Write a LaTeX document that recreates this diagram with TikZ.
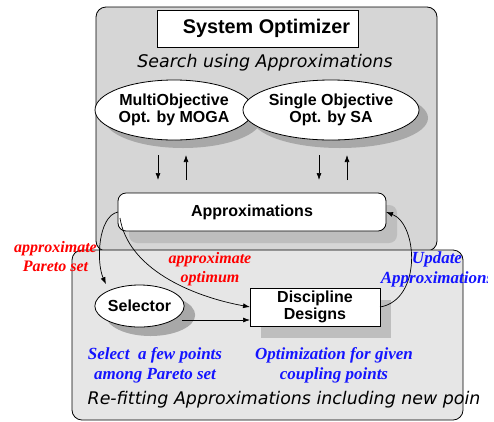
\documentclass[tikz,border=0pt]{standalone}
\usepackage{fontspec}
\setmainfont{Liberation Serif}
\newfontfamily\lsans{Liberation Sans}
\newfontfamily\djv{DejaVu Sans}
\usetikzlibrary{shapes.geometric,shadows,arrows.meta,calc}
\definecolor{topgray}{RGB}{214,214,214}
\definecolor{botgray}{RGB}{230,230,230}
\definecolor{shadeA}{RGB}{168,168,168}
\definecolor{shadeB}{RGB}{190,190,190}
\definecolor{lblred}{RGB}{255,0,0}
\definecolor{lblblue}{RGB}{20,20,255}
\begin{document}
\begin{tikzpicture}[x=1pt,y=-1pt,
  panel/.style={draw, rounded corners=10pt, line width=0.8pt, inner sep=0pt, outer sep=0pt},
  blk/.style={draw, fill=white, line width=0.8pt, inner sep=0pt, outer sep=0pt,
     font=\lsans\bfseries\fontsize{16}{17}\selectfont, align=center},
  ellshadow/.style={drop shadow={shadow xshift=9pt, shadow yshift=-8pt, opacity=1, fill=shadeA}},
  boxshadow/.style={drop shadow={shadow xshift=11pt, shadow yshift=-12pt, opacity=1, fill=shadeB}},
  lbl/.style={font=\rmfamily\bfseries\itshape\fontsize{16}{19}\selectfont, align=center, inner sep=0pt},
  bluelbl/.style={lbl, text=lblblue, font=\rmfamily\bfseries\itshape\fontsize{17}{20}\selectfont},
  note/.style={font=\djv\itshape\fontsize{17.4}{20}\selectfont, inner sep=0pt},
  arr/.style={-{Latex[length=7pt,width=5pt]}, line width=0.7pt}]
\useasboundingbox (0,0) rectangle (494,421);

% panels
\node[panel, fill=topgray, minimum width=341pt, minimum height=244pt] (top) at (266.5,129) {};
\node[panel, fill=botgray, minimum width=391pt, minimum height=170pt] (bot) at (267.5,335) {};

% title
\node[blk, minimum width=201pt, minimum height=37pt, font=\lsans\bfseries\fontsize{19.8}{22}\selectfont]
  (title) at (257.5,28.5) {\hspace*{18pt}System Optimizer};
\node[note] (search) at (265,63) {Search using Approximations};

% ellipses
\node[blk, ellipse, ellshadow, minimum width=158pt, minimum height=60pt] (moga) at (174,110)
  {MultiObjective\\Opt. by MOGA};
\node[blk, ellipse, ellshadow, minimum width=158pt, minimum height=60pt] (sa) at (331,110)
  {Single Objective\\Opt. by SA};

% approximations
\node[blk, rounded corners=8pt, boxshadow, minimum width=268pt, minimum height=38pt] (approx) at (252,212)
  {Approximations};

% selector and discipline
\node[blk, ellipse, drop shadow={shadow xshift=11pt, shadow yshift=-9pt, opacity=1, fill=shadeA},
  minimum width=85pt, minimum height=42pt] (sel) at (139.5,306) {Selector};
\node[blk, boxshadow, minimum width=130pt, minimum height=38pt] (disc) at (315,307)
  {Discipline\\Designs};

% vertical arrows
\draw[arr] ($(moga.south)+(-16,15)$) -- ($(moga.south)+(-16,40)$);
\draw[arr] ($(moga.south)+(12,40)$) -- ($(moga.south)+(12,15)$);
\draw[arr] ($(sa.south)+(-12,15)$) -- ($(sa.south)+(-12,40)$);
\draw[arr] ($(sa.south)+(16,40)$) -- ($(sa.south)+(16,15)$);

% curved connectors
\draw[arr] (approx.west) .. controls (98,216) and (96,262) .. ($(sel.north west)+(-2,-7)$);
\draw[arr] ($(approx.west)+(2,6)$) .. controls (128,268) and (190,296) .. (disc.west);
\draw[arr] ($(sel.east)+(-2,14)$) -- ($(disc.west)+(0,13)$);
\draw[arr] (disc.east) .. controls (422,300) and (418,224) .. (approx.east);

% labels
\node[lbl, text=lblred] (lpareto) at (55.5,256.5) {approximate\\Pareto set};
\node[lbl, text=lblred] (lopt) at (210,269.5) {approximate\\optimum};
\node[bluelbl] (lsel) at (155,365) {Select\ \ a few points\\among Pareto set};
\node[bluelbl] (ldisc) at (334,365) {Optimization for given\\coupling points};
\node[note] (refit) at (284,400)
    {Re-fitting Approximations including new poin};
\begin{scope}
  \clip (0,0) rectangle (487,421);
  \node[bluelbl] (lupd) at (437,269) {Update\\Approximations};
\end{scope}
\end{tikzpicture}
\end{document}
